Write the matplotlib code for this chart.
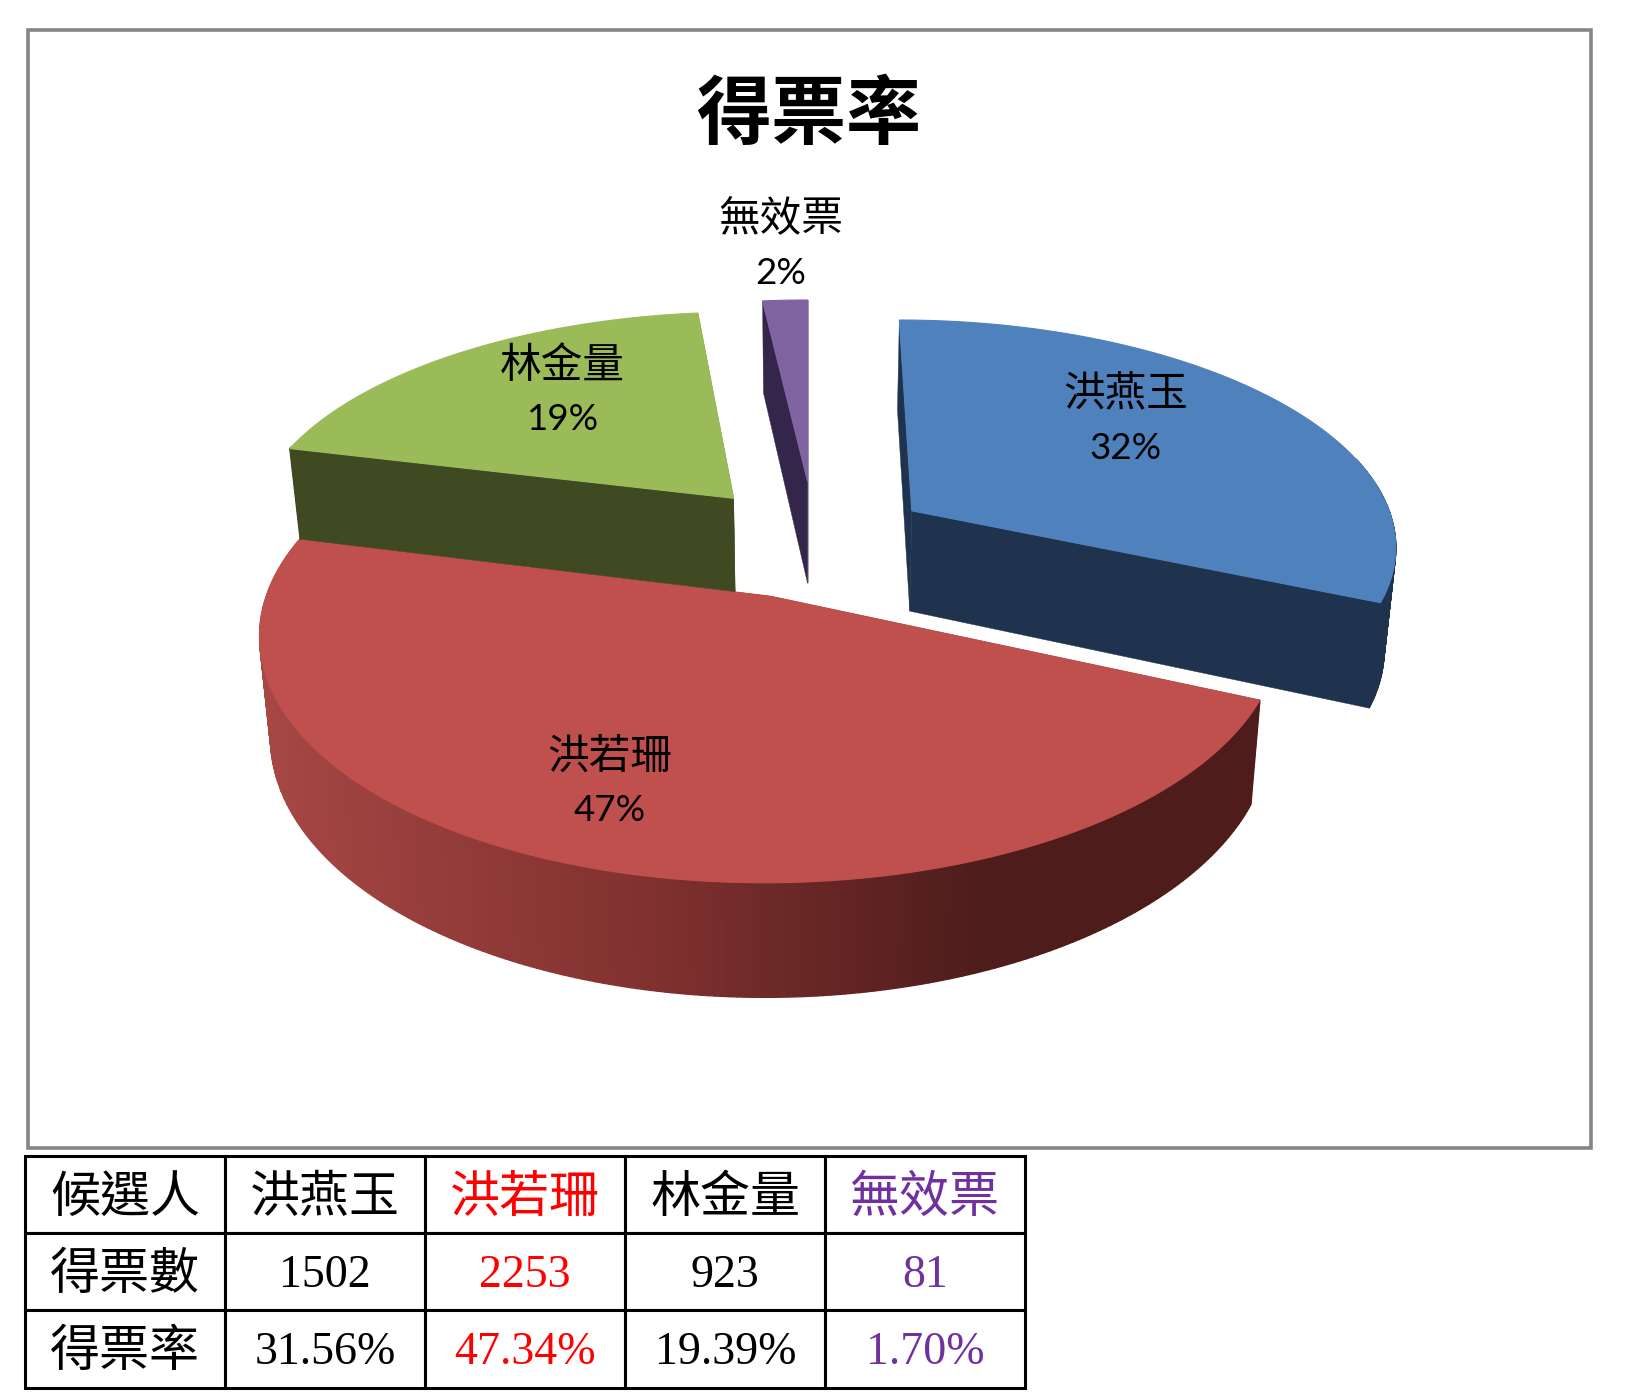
import numpy as np
import matplotlib
matplotlib.use('Agg')
import matplotlib.pyplot as plt
from matplotlib.patches import Polygon, Rectangle
from matplotlib.colors import to_rgb
from matplotlib.transforms import Affine2D

# DATA
title = '得票率'
names = ['洪燕玉', '洪若珊', '林金量', '無效票']
votes = [1502, 2253, 923, 81]
rates = ['31.56%', '47.34%', '19.39%', '1.70%']
pie_pct = ['32%', '47%', '19%', '2%']
row_heads = ['候選人', '得票數', '得票率']

# STYLE, one entry per slice
top_colors = ['#4F81BD', '#C0504D', '#9BBB59', '#8064A2']
side_colors = ['#1F334E', '#4D1C1B', '#3F4A22', '#33264A']
text_colors = ['black', '#FF0000', 'black', '#7030A0']
# apex on screen, radius x, radius y, perspective, side depth
shape = [
    (875, 490, 458, 208, 0.1365, 93),
    (739.5, 572, 484, 233.6, 0.15, 87),
    (704, 478, 456, 203, 0.1365, 87),
    (775, 462, 460, 198, 0.1365, 96),
]
label_pos = [(1080, 379, 430), (585, 726, 777), (540, 352, 402), (749, 210, 262)]

X0 = 775  # where the far edges converge
SHRINK = 0.98
CJK = ['Noto Sans CJK TC', 'DejaVu Sans']
SERIF = ['Liberation Serif', 'Noto Sans CJK TC']

fig = plt.figure(figsize=(16.34, 13.99), dpi=100, facecolor='white')
ax = fig.add_axes([0, 0, 1, 1])
ax.set_xlim(0, 1568)
ax.set_ylim(1342, 0)
ax.axis('off')

ax.add_patch(Rectangle((27, 29), 1500, 1072, fill=False, ec='#868686', lw=2.6))
ax.text(776, 111, title, family=CJK, fontsize=54, fontweight='bold',
        ha='center', va='center', color='black')


def top_pts(theta, s):
    ax_x, ax_y, a, b, k, d = s
    u, v = np.sin(theta), np.cos(theta)
    w = 1 + k * v
    return X0 + (ax_x - X0 + a * u) / w, ax_y - b * v / w


def bottom_pts(x, y, d):
    return X0 + (np.asarray(x) - X0) * SHRINK, np.asarray(y) + d + 0.055 * (np.asarray(y) - 431)


def red_shade(x):
    # side of the big slice goes darker from left to right
    stops = [250, 620, 950, 1210]
    cols = np.array([to_rgb('#A64744'), to_rgb('#80312F'), to_rgb('#4D1C1B'), to_rgb('#4D1C1B')])
    return [np.interp(x, stops, cols[:, i]) for i in range(3)]


def draw_slice(i, start, end):
    s = shape[i]
    d = s[5]
    z = 2 + i * 0.1
    th = np.linspace(start, end, 240)
    x, y = top_pts(th, s)
    bx, by = bottom_pts(x, y, d)
    ax_x, ax_y = s[0], s[1]
    abx, aby = bottom_pts([ax_x], [ax_y], d)
    # two cut faces
    for px, py, qx, qy in [(x[0], y[0], bx[0], by[0]), (x[-1], y[-1], bx[-1], by[-1])]:
        ax.add_patch(Polygon([(ax_x, ax_y), (px, py), (qx, qy), (abx[0], aby[0])],
                             fc=side_colors[i], ec=side_colors[i], lw=0.3, zorder=z))
    # rim, small pieces so it does not twist where it turns away
    # only the part on the near side, the far part sits under the top anyway
    for j in range(len(th) - 1):
        if np.cos(th[j]) > 0.25:
            continue
        c = red_shade((x[j] + x[j + 1]) / 2) if i == 1 else side_colors[i]
        ax.add_patch(Polygon([(x[j], y[j]), (x[j + 1], y[j + 1]), (bx[j + 1], by[j + 1]), (bx[j], by[j])],
                             fc=c, ec=c, lw=1.0, zorder=z))
    # top surface
    ax.add_patch(Polygon([(ax_x, ax_y)] + list(zip(x, y)), fc=top_colors[i], ec=top_colors[i],
                         lw=0.8, zorder=z + 0.05))


# slices start at 12 o'clock and go clockwise, red goes under the others
total = float(sum(votes))
angles = np.cumsum([0] + votes) / total * 2 * np.pi
for i in range(4):
    draw_slice(i, angles[i], angles[i + 1])

for i in range(4):
    lx, ly1, ly2 = label_pos[i]
    ax.text(lx, ly1, names[i], family=CJK, fontsize=30, fontweight='light', ha='center', va='center',
            color='black', zorder=10)
    ax.text(lx, ly2, pie_pct[i], family=['Lato', 'DejaVu Sans'], fontsize=26.5, ha='center', va='center',
            color='black', zorder=10)

# TABLE
tx0, tx1, ty0, ty1 = 24, 984, 1109, 1331
tab_ax = fig.add_axes([tx0 / 1568, 1 - ty1 / 1342, (tx1 - tx0) / 1568, (ty1 - ty0) / 1342])
tab_ax.axis('off')
cells = [[row_heads[0]] + names,
         [row_heads[1]] + [str(v) for v in votes],
         [row_heads[2]] + rates]
tab = tab_ax.table(cellText=cells, bbox=[0, 0, 1, 1], cellLoc='center')
tab.auto_set_font_size(False)
for (r, c), cell in tab.get_celld().items():
    cell.set_linewidth(2.2)
    cell.set_edgecolor('black')
    txt = cell.get_text()
    txt.set_color('black' if c == 0 else text_colors[c - 1])
    is_cjk = r == 0 or c == 0
    txt.set_fontfamily(CJK if is_cjk else SERIF)
    txt.set_fontsize(36 if is_cjk else 33)
    if is_cjk:
        txt.set_fontweight('light')
    # cell text is placed in pixels, move it down a little
    txt.set_transform(Affine2D().translate(0, -3 if is_cjk else -4))

fig.savefig('out.png', dpi=100, facecolor='white')
